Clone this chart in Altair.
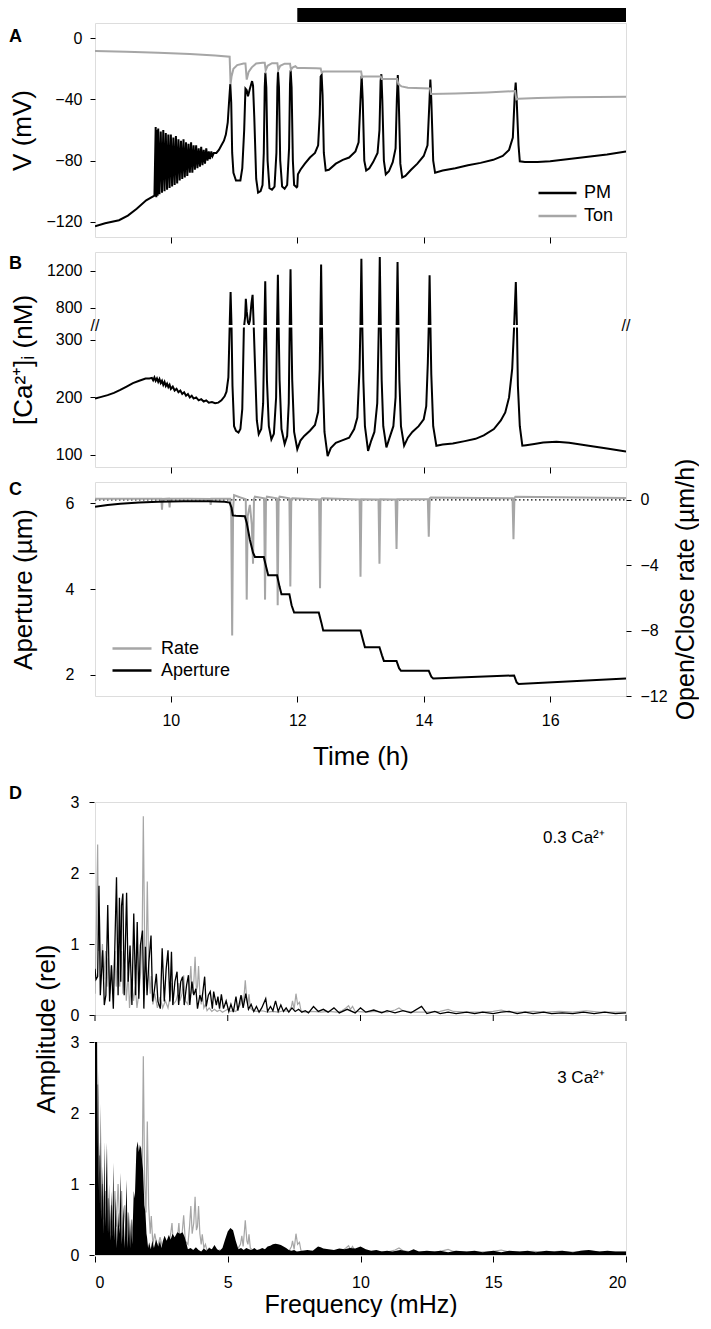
import altair as alt
import pandas as pd

FONT = "Liberation Sans"
GRAY = "#a6a6a6"
W = 531

# ---------------- Panel A : membrane voltage (time h, mV) ----------------
pm = [(8.80,-123),(8.96,-121),(9.18,-119),(9.32,-116),(9.46,-111.5),(9.61,-106),(9.74,-103),
(9.76,-58),(9.77,-104),(9.78,-60),(9.79,-103),(9.80,-59),(9.82,-102),(9.84,-61),(9.86,-101),(9.88,-60),
(9.90,-100),(9.92,-62),(9.94,-99),(9.96,-63),(9.98,-98),(10.00,-63),(10.02,-97),(10.04,-65),(10.06,-96),
(10.08,-64),(10.10,-95),(10.12,-66),(10.14,-93),(10.16,-67),(10.18,-92),(10.20,-66),(10.22,-91),(10.24,-68),
(10.26,-90),(10.28,-69),(10.30,-88),(10.32,-68),(10.34,-88),(10.36,-70),(10.38,-86),(10.40,-70),(10.42,-85),
(10.44,-72),(10.46,-84),(10.48,-71),(10.50,-83),(10.52,-73),(10.54,-82),(10.56,-72),(10.58,-80),(10.60,-74),
(10.62,-79),(10.64,-74),(10.66,-77),(10.68,-75),(10.72,-75),(10.76,-73),(10.80,-70),(10.84,-67),(10.87,-63),
(10.90,-55),(10.92,-42),(10.94,-30),(10.955,-42),(10.97,-75),(10.99,-88),(11.03,-93),(11.10,-93),(11.13,-85),
(11.16,-60),(11.18,-33),(11.20,-34),(11.22,-38),(11.25,-33),(11.285,-28),(11.30,-31),(11.32,-52),(11.35,-92),
(11.38,-101),(11.42,-100),(11.45,-96),(11.47,-75),(11.485,-32),(11.495,-22.5),(11.51,-32),(11.53,-80),
(11.56,-98),(11.60,-99),(11.64,-97),(11.67,-75),(11.685,-32),(11.695,-22),(11.71,-32),(11.73,-80),(11.76,-97),
(11.80,-98.5),(11.84,-96),(11.87,-72),(11.885,-30),(11.895,-21),(11.91,-32),(11.93,-80),(11.95,-96),
(11.99,-97.5),(12.0,-97),(12.01,-89),(12.05,-86),(12.12,-82),(12.20,-78),(12.28,-75),(12.33,-70),(12.355,-50),
(12.37,-25),(12.385,-24),(12.40,-37),(12.42,-75),(12.45,-86.5),(12.50,-86),(12.61,-82),(12.72,-79.5),
(12.82,-78),(12.92,-74),(12.97,-68),(13.0,-40),(13.018,-24.5),(13.035,-40),(13.06,-80),(13.09,-86.5),
(13.14,-85),(13.2,-81),(13.27,-75),(13.30,-60),(13.318,-28),(13.33,-23.5),(13.345,-40),(13.37,-80),
(13.40,-89),(13.45,-87),(13.51,-81),(13.555,-72),(13.575,-40),(13.59,-24),(13.605,-40),(13.63,-82),
(13.66,-91),(13.71,-90),(13.80,-86),(13.90,-82),(14.0,-77),(14.06,-70),(14.09,-42),(14.105,-27),(14.12,-40),
(14.15,-80),(14.18,-88),(14.3,-86.5),(14.5,-85),(14.7,-83),(14.9,-81.5),(15.1,-79.5),(15.25,-77),(15.35,-73),
(15.41,-65),(15.44,-37),(15.455,-29),(15.47,-40),(15.50,-70),(15.52,-80.5),(15.6,-81),(15.8,-81),(16.0,-80.5),
(16.3,-79),(16.6,-77.5),(16.9,-76),(17.2,-74)]

ton = [(8.8,-8.3),(9.3,-8.8),(9.8,-9.5),(10.3,-10.3),(10.7,-11.2),(10.93,-12),(10.945,-30),(10.96,-25),
(10.99,-20),(11.05,-17.5),(11.15,-16.5),(11.18,-16.5),(11.20,-27),(11.23,-22),(11.28,-19),(11.35,-16.5),
(11.45,-16),(11.485,-16),(11.50,-21),(11.53,-18),(11.6,-16.3),(11.685,-16.3),(11.70,-20.6),(11.73,-18),
(11.8,-16.6),(11.885,-16.6),(11.90,-20.5),(11.93,-19),(11.97,-18.3),(12.0,-19.5),(12.1,-19.5),(12.3,-19.6),
(12.37,-19.8),(12.385,-22.5),(12.41,-21.8),(12.7,-21.7),(13.01,-21.7),(13.025,-25.6),(13.05,-25),(13.32,-25),
(13.335,-26.7),(13.58,-26.7),(13.60,-30),(13.65,-31.5),(13.75,-32.4),(14.1,-32.8),(14.115,-36.5),(14.5,-36.2),
(15.0,-35.5),(15.445,-34.5),(15.465,-40),(15.5,-39.6),(15.8,-39),(16.3,-38.6),(17.2,-38.3)]

night = [12.0, 17.2]

# ---------------- Panel B : cytosolic Ca2+ (time h, nM) ----------------
ca = [(8.80,198),(8.90,201),(9.00,204),(9.10,208),(9.20,213),(9.30,219),(9.40,225),(9.50,229),(9.60,233),
(9.66,233),(9.70,234),(9.72,230),(9.74,235),(9.76,229),(9.78,233),(9.80,227),(9.82,232),(9.84,225),(9.86,229),
(9.88,222),(9.90,227),(9.92,220),(9.94,224),(9.96,218),(9.98,222),(10.00,215),(10.03,219),(10.06,212),
(10.09,215),(10.12,209),(10.15,212),(10.18,206),(10.21,209),(10.24,203),(10.27,206),(10.30,200),(10.33,203),
(10.36,198),(10.40,200),(10.44,195),(10.48,197),(10.52,193),(10.56,195),(10.60,191),(10.65,192),(10.70,190),
(10.75,191),(10.80,195),(10.85,202),(10.88,210),(10.91,235),(10.93,450),(10.945,971),(10.96,420),(10.975,220),
(11.00,150),(11.03,142),(11.07,139),(11.10,145),(11.13,180),(11.155,350),(11.175,700),(11.186,898),(11.20,760),
(11.22,640),(11.235,620),(11.25,660),(11.275,850),(11.293,940),(11.31,600),(11.33,260),(11.36,160),(11.39,136),
(11.43,145),(11.46,190),(11.48,500),(11.493,1087),(11.505,520),(11.52,230),(11.55,150),(11.59,127),(11.63,137),
(11.665,200),(11.68,520),(11.693,1160),(11.705,540),(11.72,230),(11.75,145),(11.80,119),(11.84,133),
(11.865,190),(11.88,520),(11.893,1218),(11.905,550),(11.92,230),(11.95,140),(12.00,110),(12.05,125),
(12.11,133),(12.20,142),(12.28,152),(12.33,175),(12.355,250),(12.365,600),(12.377,1269),(12.39,600),
(12.405,230),(12.43,140),(12.48,98),(12.53,112),(12.61,121),(12.70,125),(12.82,130),(12.90,145),(12.95,165),
(12.985,250),(13.0,650),(13.014,1334),(13.028,620),(13.045,230),(13.07,150),(13.12,107),(13.17,125),
(13.22,140),(13.265,190),(13.29,600),(13.305,1353),(13.32,620),(13.335,230),(13.36,150),(13.41,113),
(13.46,130),(13.52,150),(13.555,200),(13.572,600),(13.586,1298),(13.6,600),(13.615,230),(13.64,150),
(13.69,116),(13.75,130),(13.82,140),(13.92,150),(14.0,162),(14.04,185),(14.065,260),(14.08,600),(14.093,1153),
(14.106,600),(14.12,240),(14.15,150),(14.2,116),(14.3,118),(14.46,120),(14.65,124),(14.82,128),(14.95,134),
(15.11,145),(15.22,160),(15.29,174),(15.35,200),(15.40,250),(15.43,450),(15.457,1080),(15.475,450),
(15.49,220),(15.52,150),(15.56,116),(15.62,117),(15.75,119),(15.89,121.5),(16.1,123),(16.3,121),(16.61,116),
(16.9,111),(17.2,106)]

# ---------------- Panel C : aperture (um) and open/close rate (um/h) ----------------
aperture = [(8.8,5.92),(9.0,5.96),(9.2,5.99),(9.5,6.02),(9.8,6.04),(10.2,6.05),(10.6,6.05),(10.85,6.04),
(10.93,6.02),(10.96,5.9),(10.98,5.72),(11.03,5.71),(11.17,5.70),(11.20,5.55),(11.25,5.15),(11.30,4.85),
(11.33,4.75),(11.47,4.75),(11.51,4.5),(11.54,4.32),(11.68,4.32),(11.72,4.05),(11.75,3.88),(11.875,3.88),
(11.91,3.62),(11.95,3.45),(12.34,3.45),(12.38,3.22),(12.41,3.03),(13.0,3.03),(13.04,2.8),(13.07,2.64),
(13.30,2.64),(13.34,2.45),(13.37,2.32),(13.57,2.32),(13.61,2.15),(13.64,2.09),(14.08,2.09),(14.12,1.95),
(14.15,1.91),(15.43,1.98),(15.47,1.82),(15.5,1.78),(17.2,1.91)]

rate = [(8.8,0.08),(9.5,0.08),(9.85,0.08),(9.86,-0.6),(9.87,0.06),(9.97,0.08),(9.98,-0.45),(9.99,0.08),
(10.3,0.08),(10.62,0.06),(10.63,-0.3),(10.64,0.08),(10.94,0.08),(10.955,-1),(10.97,-8.3),(10.985,-0.5),
(11.0,0.3),(11.1,0.15),(11.185,0.05),(11.2,-6.1),(11.215,-1.0),(11.25,-0.3),(11.28,-1.5),(11.30,-3.9),
(11.315,0.05),(11.33,0.2),(11.475,0.1),(11.49,-6.1),(11.505,0.05),(11.52,0.2),(11.675,0.1),(11.69,-6.45),
(11.705,0.05),(11.72,0.2),(11.875,0.1),(11.89,-5.3),(11.905,0.05),(11.92,0.1),(12.345,0.03),(12.36,-5.4),
(12.375,0.05),(12.39,0.1),(12.985,0.03),(13.0,-4.7),(13.015,0.05),(13.285,0.03),(13.30,-3.9),(13.315,0.05),
(13.555,0.03),(13.57,-3.0),(13.585,0.05),(14.065,0.05),(14.08,-2.25),(14.095,0.1),(14.11,0.15),(15.405,0.1),
(15.42,-2.4),(15.435,0.1),(15.45,0.2),(17.2,0.12)]

zero_line = [(8.8,0.0),(17.2,0.0)]

# ---------------- Panel D : amplitude spectra (mHz, rel) ----------------
spec_gray = [(0.0,0.3),(0.05,1.2),(0.1,2.4),(0.13,0.9),(0.17,1.4),(0.22,0.6),(0.28,1.0),(0.33,0.5),(0.4,0.9),
(0.45,0.4),(0.5,0.8),(0.56,0.3),(0.62,0.7),(0.68,0.3),(0.75,0.9),(0.8,0.4),(0.87,1.0),(0.93,0.4),(1.0,0.9),
(1.05,0.3),(1.12,0.7),(1.18,0.2),(1.25,0.6),(1.3,0.1),(1.38,0.5),(1.45,0.2),(1.52,0.4),(1.58,0.1),(1.65,0.3),
(1.72,0.6),(1.78,1.2),(1.82,2.8),(1.87,1.0),(1.92,0.6),(1.97,1.88),(2.02,0.7),(2.08,0.3),(2.12,0.55),
(2.18,0.15),(2.25,0.3),(2.35,0.1),(2.45,0.25),(2.55,0.1),(2.65,0.2),(2.75,0.1),(2.85,0.3),(2.9,0.45),
(2.95,0.15),(3.05,0.2),(3.12,0.3),(3.16,0.45),(3.2,0.2),(3.28,0.3),(3.34,0.56),(3.4,0.2),(3.5,0.15),
(3.56,0.4),(3.61,0.69),(3.66,0.3),(3.72,0.45),(3.77,0.82),(3.82,0.35),(3.86,0.4),(3.9,0.69),(3.95,0.3),
(4.0,0.15),(4.04,0.29),(4.1,0.1),(4.16,0.15),(4.22,0.06),(4.3,0.1),(4.4,0.05),(4.5,0.08),(4.6,0.05),
(4.7,0.07),(4.8,0.04),(4.9,0.06),(5.0,0.08),(5.1,0.05),(5.2,0.06),(5.3,0.05),(5.4,0.1),(5.48,0.15),
(5.53,0.27),(5.58,0.12),(5.62,0.3),(5.66,0.49),(5.72,0.2),(5.76,0.15),(5.8,0.29),(5.85,0.1),(5.95,0.06),
(6.1,0.05),(6.3,0.06),(6.5,0.04),(6.7,0.05),(6.9,0.04),(7.1,0.06),(7.3,0.05),(7.4,0.12),(7.44,0.2),
(7.5,0.08),(7.57,0.3),(7.63,0.15),(7.7,0.18),(7.76,0.06),(7.9,0.04),(8.2,0.05),(8.5,0.04),(8.8,0.05),
(9.1,0.04),(9.3,0.06),(9.45,0.1),(9.55,0.13),(9.62,0.08),(9.7,0.12),(9.8,0.05),(10.2,0.04),(10.6,0.05),
(11.0,0.04),(11.3,0.07),(11.45,0.1),(11.6,0.06),(12.0,0.04),(12.5,0.04),(13.0,0.05),(13.3,0.08),(13.5,0.05),
(14.0,0.04),(14.5,0.04),(15.0,0.05),(15.3,0.07),(15.6,0.04),(16.0,0.04),(16.5,0.05),(17.0,0.04),(17.5,0.05),
(18.0,0.04),(18.5,0.06),(19.0,0.04),(19.5,0.04),(20.0,0.04)]

spec_low = [(0.0,0.65),(0.04,0.5),(0.1,0.54),(0.15,1.82),(0.2,0.28),(0.29,0.91),(0.35,0.14),(0.41,0.28),
(0.48,1.55),(0.55,0.19),(0.62,0.70),(0.69,0.09),(0.81,1.94),(0.87,0.28),(0.92,1.65),(0.97,0.47),(1.0,1.54),
(1.05,1.71),(1.10,0.28),(1.19,1.72),(1.25,0.47),(1.32,0.98),(1.39,0.14),(1.46,1.43),(1.53,0.28),(1.59,1.31),
(1.65,0.23),(1.71,0.98),(1.79,1.19),(1.84,0.09),(1.90,0.96),(1.96,0.28),(2.03,0.75),(2.11,1.12),(2.17,0.19),
(2.23,0.33),(2.31,0.58),(2.37,0.19),(2.46,0.09),(2.53,0.94),(2.61,0.19),(2.68,0.65),(2.75,0.91),(2.82,0.19),
(2.88,0.89),(2.93,0.14),(3.01,0.47),(3.09,0.61),(3.15,0.14),(3.23,0.47),(3.30,0.54),(3.36,0.14),(3.45,0.42),
(3.52,0.56),(3.57,0.14),(3.65,0.47),(3.72,0.28),(3.80,0.37),(3.86,0.09),(3.95,0.28),(4.02,0.19),(4.13,0.54),
(4.19,0.12),(4.27,0.28),(4.34,0.33),(4.42,0.09),(4.47,0.33),(4.57,0.14),(4.63,0.26),(4.69,0.09),(4.76,0.29),
(4.84,0.09),(4.94,0.2),(5.04,0.05),(5.12,0.15),(5.21,0.04),(5.31,0.26),(5.38,0.06),(5.5,0.28),(5.58,0.1),
(5.68,0.3),(5.78,0.08),(5.88,0.15),(5.98,0.05),(6.08,0.12),(6.18,0.04),(6.28,0.1),(6.43,0.23),(6.5,0.05),
(6.61,0.12),(6.7,0.06),(6.8,0.2),(6.9,0.05),(7.0,0.14),(7.1,0.05),(7.2,0.1),(7.3,0.04),(7.42,0.1),(7.54,0.05),
(7.67,0.08),(7.79,0.04),(7.92,0.06),(8.04,0.03),(8.23,0.12),(8.41,0.05),(8.6,0.08),(8.78,0.04),(9.0,0.1),
(9.2,0.03),(9.5,0.08),(9.8,0.03),(10.0,0.1),(10.2,0.04),(10.5,0.07),(10.8,0.03),(11.0,0.06),(11.3,0.03),
(11.6,0.06),(11.9,0.03),(12.3,0.12),(12.5,0.02),(12.8,0.05),(13.0,0.02),(13.3,0.04),(13.6,0.02),(14.0,0.04),
(14.3,0.02),(14.6,0.04),(15.0,0.02),(15.3,0.04),(15.6,0.05),(15.9,0.02),(16.2,0.04),(16.5,0.02),(16.9,0.04),
(17.2,0.02),(17.6,0.03),(18.0,0.02),(18.4,0.04),(18.8,0.02),(19.2,0.04),(19.6,0.02),(20.0,0.03)]

spec_high = [(0.0,3.2),(0.02,3.2),(0.05,3.2),(0.08,3.0),(0.1,1.5),(0.12,2.6),(0.14,0.9),(0.17,1.6),(0.19,0.6),
(0.22,2.13),(0.25,0.5),(0.29,1.25),(0.32,0.3),(0.35,1.6),(0.39,0.4),(0.42,1.1),(0.45,1.58),(0.49,0.3),
(0.53,1.0),(0.57,0.2),(0.62,0.9),(0.65,0.25),(0.69,1.3),(0.73,0.2),(0.78,0.8),(0.82,0.1),(0.87,0.6),
(0.92,0.3),(0.97,1.16),(1.01,0.15),(1.07,0.7),(1.12,0.1),(1.19,1.06),(1.23,0.1),(1.28,0.6),(1.32,0.1),
(1.36,0.5),(1.4,0.15),(1.46,0.9),(1.5,0.8),(1.56,1.5),(1.61,1.6),(1.65,1.45),(1.69,1.55),(1.74,1.5),
(1.78,1.3),(1.81,1.2),(1.86,0.7),(1.9,0.6),(1.94,0.3),(1.96,0.25),(2.0,0.1),(2.04,0.18),(2.1,0.08),
(2.16,0.2),(2.22,0.1),(2.3,0.22),(2.38,0.12),(2.45,0.2),(2.5,0.1),(2.56,0.2),(2.62,0.27),(2.7,0.2),
(2.78,0.28),(2.85,0.22),(2.92,0.3),(3.0,0.25),(3.1,0.32),(3.2,0.3),(3.3,0.32),(3.38,0.25),(3.45,0.15),
(3.5,0.08),(3.6,0.1),(3.7,0.07),(3.8,0.11),(3.9,0.07),(4.0,0.05),(4.1,0.09),(4.2,0.06),(4.3,0.1),(4.4,0.08),
(4.5,0.14),(4.6,0.08),(4.7,0.06),(4.8,0.1),(4.9,0.22),(5.0,0.33),(5.1,0.38),(5.2,0.35),(5.3,0.2),(5.4,0.08),
(5.5,0.1),(5.6,0.07),(5.7,0.1),(5.8,0.08),(5.9,0.07),(6.0,0.1),(6.1,0.07),(6.2,0.08),(6.3,0.1),(6.4,0.08),
(6.5,0.12),(6.6,0.13),(6.7,0.15),(6.8,0.16),(6.9,0.15),(7.0,0.14),(7.1,0.12),(7.2,0.1),(7.3,0.07),(7.4,0.06),
(7.5,0.07),(7.6,0.05),(7.8,0.06),(8.0,0.07),(8.2,0.06),(8.4,0.12),(8.5,0.11),(8.6,0.09),(8.8,0.08),(9.0,0.07),
(9.2,0.09),(9.4,0.08),(9.6,0.1),(9.8,0.09),(10.0,0.12),(10.2,0.08),(10.4,0.06),(10.6,0.07),(10.8,0.05),
(11.0,0.06),(11.2,0.05),(11.5,0.07),(11.8,0.05),(12.0,0.08),(12.2,0.05),(12.5,0.06),(12.8,0.05),(13.0,0.06),
(13.3,0.04),(13.6,0.06),(14.0,0.05),(14.3,0.06),(14.6,0.04),(15.0,0.06),(15.3,0.04),(15.6,0.06),(16.0,0.05),
(16.3,0.06),(16.6,0.04),(17.0,0.06),(17.3,0.05),(17.6,0.06),(18.0,0.04),(18.3,0.06),(18.6,0.07),(19.0,0.05),
(19.3,0.06),(19.6,0.05),(20.0,0.05)]

panel_labels = [("top", "0.3 Ca²⁺"), ("bottom", "3 Ca²⁺")]
freq_ticks = [0, 5, 10, 15, 20]

HA, HB, HC, HD = 214, 215, 214, 213

# ---------------- common styling ----------------
def ax(**kw):
    base = dict(grid=False, domain=False, labelFont=FONT, titleFont=FONT, labelFontSize=16,
                titleFontSize=26, titleFontWeight="normal", labelColor="black", titleColor="black",
                tickColor="black", tickSize=5)
    base.update(kw)
    return alt.Axis(**base)

def letter(txt, y):
    return alt.Chart(pd.DataFrame({"L": [txt]})).mark_text(
        align="left", baseline="middle", fontSize=18, fontWeight="bold", font=FONT, color="black"
    ).encode(text="L:N", x=alt.value(-86), y=alt.value(y))

tscale = alt.Scale(domain=[8.8, 17.2], nice=False, zero=False)
def x_ticks_only(field):
    return alt.X(field, scale=tscale, axis=ax(values=[10, 12, 14, 16], labels=False, title=None, tickSize=6))

# ---- A
dfA = pd.DataFrame([(t, v, "PM") for t, v in pm] + [(t, v, "Ton") for t, v in ton], columns=["t", "v", "s"])
yA = alt.Y("v:Q", scale=alt.Scale(domain=[-130, 10], nice=False),
           axis=ax(values=[0, -40, -80, -120], title="V (mV)", labelPadding=8,
                   minExtent=45, maxExtent=45, titlePadding=15))
lineA = alt.Chart(dfA).mark_line(strokeWidth=2, clip=True).encode(
    x=x_ticks_only("t:Q"), y=yA,
    color=alt.Color("s:N", scale=alt.Scale(domain=["PM", "Ton"], range=["#000000", GRAY]),
                    legend=alt.Legend(title=None, orient="bottom-right", symbolType="stroke",
                                      symbolSize=1444, symbolStrokeWidth=2.5, labelFontSize=18,
                                      labelFont=FONT, labelColor="black", clipHeight=18, rowPadding=5,
                                      offset=12, labelOffset=6)),
)
barA = alt.Chart(pd.DataFrame({"t0": [night[0]], "t1": [night[1]]})).mark_rect(color="black").encode(
    x=x_ticks_only("t0:Q"), x2="t1:Q", y=alt.value(-16), y2=alt.value(-1))
chartA = alt.layer(lineA, barA, letter("A", 14)).properties(width=W, height=HA)

# ---- B (broken axis: lower part linear up to 320 nM, upper part compressed)
dfB = pd.DataFrame(ca, columns=["t", "v"])
disp = ("datum.v <= 320 ? datum.v : (datum.v >= 620 ? 356 + (datum.v - 800) * 0.16 : "
        "320 + (datum.v - 320) * 0.024)")
bscale = alt.Scale(domain=[79, 453], nice=False, zero=False)
def yB(field):
    return alt.Y(field, scale=bscale,
                 axis=ax(values=[100, 200, 300, 356, 420],
                         labelExpr="datum.value > 400 ? '1200' : datum.value > 350 ? '800' : datum.label",
                         title="[Ca²⁺]ᵢ (nM)", labelPadding=8, minExtent=49, maxExtent=49, titlePadding=10))
lineB = alt.Chart(dfB).transform_calculate(d=disp).mark_line(strokeWidth=2, color="black", clip=True).encode(
    x=x_ticks_only("t:Q"), y=yB("d:Q"))
gapB = alt.Chart(pd.DataFrame({"t": [8.83], "t1": [17.17], "d": [321.6], "d1": [326.0]})).mark_rect(
    color="white").encode(x=x_ticks_only("t:Q"), x2="t1:Q", y=yB("d:Q"), y2="d1:Q")
slashB = alt.Chart(pd.DataFrame({"t": [8.8, 17.2], "d": [324.0, 324.0], "s": ["//", "//"]})).mark_text(
    fontSize=16, font=FONT, color="black").encode(x=x_ticks_only("t:Q"), y=yB("d:Q"), text="s:N")
chartB = alt.layer(lineB, gapB, slashB, letter("B", 12)).properties(width=W, height=HB)

# ---- C
x_time = alt.X("t:Q", scale=tscale, axis=ax(values=[10, 12, 14, 16], title="Time (h)", tickSize=6,
                                            labelPadding=10, titlePadding=15))
yRate = alt.Y("r:Q", scale=alt.Scale(domain=[-12, 1.1], nice=False, zero=False),
              axis=ax(orient="right", values=[0, -4, -8, -12], title="Open/Close rate (µm/h)",
                      titleAngle=270, titleBaseline="top", labelPadding=9, minExtent=37, maxExtent=37,
                      titlePadding=10, titleFontSize=25))
colC = alt.Scale(domain=["Rate", "Aperture"], range=[GRAY, "#000000"])
legC = alt.Legend(title=None, orient="bottom-left", symbolType="stroke", symbolSize=1521,
                  symbolStrokeWidth=2.5, labelFontSize=18, labelFont=FONT, labelColor="black",
                  clipHeight=17, rowPadding=3, offset=16, labelOffset=8)
dfRate = pd.DataFrame([(t, r, "Rate") for t, r in rate], columns=["t", "r", "s"])
dfZero = pd.DataFrame(zero_line, columns=["t", "r"])
dfAp = pd.DataFrame([(t, a, "Aperture") for t, a in aperture], columns=["t", "a", "s"])
zeroC = alt.Chart(dfZero).mark_line(color="black", strokeWidth=1.2, strokeDash=[1.5, 2.5]).encode(x=x_time, y=yRate)
rateC = alt.Chart(dfRate).mark_line(strokeWidth=2, clip=True).encode(
    x=x_time, y=yRate, color=alt.Color("s:N", scale=colC, legend=legC))
apC = alt.Chart(dfAp).mark_line(strokeWidth=2, clip=True).encode(
    x=x_time,
    y=alt.Y("a:Q", scale=alt.Scale(domain=[1.5, 6.5], nice=False, zero=False),
            axis=ax(values=[2, 4, 6], title="Aperture (µm)", labelPadding=16, minExtent=30,
                    maxExtent=30, titlePadding=29)),
    color=alt.Color("s:N", scale=colC, legend=legC))
chartC = alt.layer(alt.layer(zeroC, rateC), apC, letter("C", 8)).resolve_scale(y="independent").properties(
    width=W, height=HC)

# ---- spacer between C and D
spacer = alt.Chart(pd.DataFrame({"z": [0]})).mark_point(opacity=0).encode(
    x=alt.X("z:Q", axis=None), y=alt.Y("z:Q", axis=None)
).properties(width=W, height=76, view=alt.ViewBackground(stroke="transparent"))

# ---- D (two spectra panels)
rows = []
for p in ["top", "bottom"]:
    rows += [(p, "gray", f, a, "") for f, a in spec_gray]
rows += [("top", "blk", f, a, "") for f, a in spec_low]
rows += [("bottom", "area", f, a, "") for f, a in spec_high]
rows += [(p, "label", 19.2, 2.5, s) for p, s in panel_labels]
rows += [("top", "tick", f, 0.0, "") for f in freq_ticks]
dfD = pd.DataFrame(rows, columns=["panel", "kind", "f", "a", "lab"])

xD = alt.X("f:Q", scale=alt.Scale(domain=[0, 20], nice=False),
           axis=ax(values=freq_ticks, title="Frequency (mHz)", tickSize=6, labelPadding=12, titlePadding=2,
                   titleFontSize=25))
yD = alt.Y("a:Q", scale=alt.Scale(domain=[0, 3], nice=False),
           axis=ax(values=[0, 1, 2, 3], title=None, labelPadding=10, minExtent=23, maxExtent=23))
baseD = alt.Chart().encode(x=xD, y=yD)
grayD = baseD.mark_line(color=GRAY, strokeWidth=1.2, clip=True).transform_filter("datum.kind == 'gray'")
areaD = baseD.mark_area(color="black", clip=True).transform_filter("datum.kind == 'area'")
blkD = baseD.mark_line(color="black", strokeWidth=1.3, clip=True).transform_filter("datum.kind == 'blk'")
lblD = baseD.mark_text(align="right", baseline="middle", fontSize=17, font=FONT, color="black").encode(
    text="lab:N").transform_filter("datum.kind == 'label'")
tickD = alt.Chart().mark_rule(color="black").encode(
    x=xD, y=alt.value(HD), y2=alt.value(HD + 6)).transform_filter("datum.kind == 'tick'")
chartD = alt.layer(grayD, areaD, blkD, lblD, tickD, data=dfD).properties(width=W, height=HD).facet(
    row=alt.Row("panel:N", sort=["top", "bottom"], title="Amplitude (rel)",
                header=alt.Header(labels=False, titleFontSize=26, titleFont=FONT, titleFontWeight="normal",
                                  titleColor="black", titleAngle=270, titlePadding=-26)),
    spacing=19,
).properties(title=alt.TitleParams("D", anchor="start", frame="group", dx=-86, dy=13, fontSize=18,
                                   fontWeight="bold", font=FONT, color="black", offset=4))

chart = alt.vconcat(chartA, chartB, chartC, spacer, chartD, spacing=15, bounds="flush").resolve_scale(
    color="independent").properties(
    padding={"left": 0, "right": 0, "top": -2, "bottom": 0}
).configure_view(stroke="#333333", strokeWidth=1).configure(font=FONT)

chart.save("out.html", embed_options={"renderer": "svg", "actions": False})
